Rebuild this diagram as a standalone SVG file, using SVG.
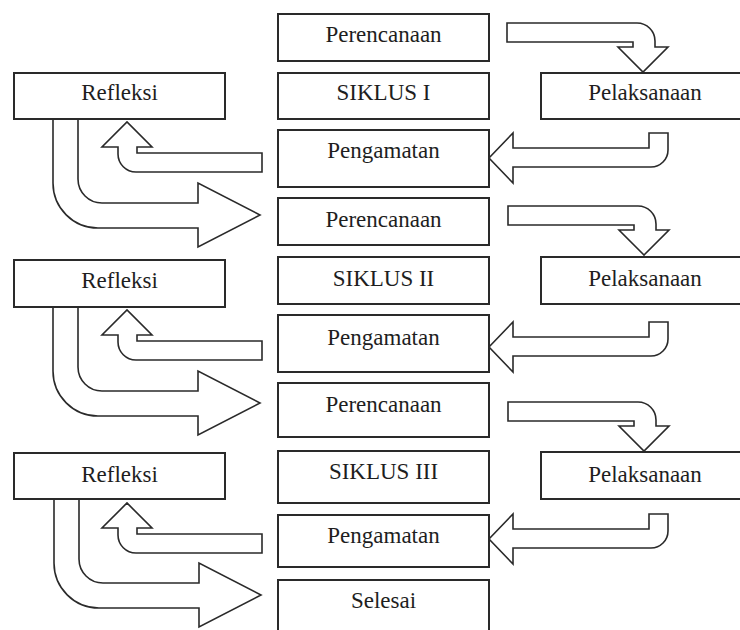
<svg xmlns="http://www.w3.org/2000/svg" width="740" height="630" viewBox="0 0 740 630">
<style>
.box{fill:#fff;stroke:#2a2a2a;stroke-width:2}
.arr{fill:#fff;stroke:#2a2a2a;stroke-width:1.6;stroke-linejoin:miter}
text{font-family:"Liberation Serif","Times New Roman",serif;font-size:23px;fill:#1e1e1e;text-anchor:middle}
</style>
<rect width="740" height="630" fill="#fff"/>
<g id="connectors">
<path class="arr" d="M507,23 H637 A18,18 0 0 1 655,41 V47 H668 L643,72 L618,47 H633 V42 H507 Z"/>
<path class="arr" transform="translate(1,183)" d="M507,23 H637 A18,18 0 0 1 655,41 V47 H668 L643,72 L618,47 H633 V42 H507 Z"/>
<path class="arr" transform="translate(1,379)" d="M507,23 H637 A18,18 0 0 1 655,41 V47 H668 L643,72 L618,47 H633 V42 H507 Z"/>
<path class="arr" d="M649,133 H668 V150 A17,17 0 0 1 651,167 H513 V183 L489,158 L513,133 V148 H649 Z"/>
<path class="arr" transform="translate(0,189)" d="M649,133 H668 V150 A17,17 0 0 1 651,167 H513 V183 L489,158 L513,133 V148 H649 Z"/>
<path class="arr" transform="translate(0,381)" d="M649,133 H668 V150 A17,17 0 0 1 651,167 H513 V183 L489,158 L513,133 V148 H649 Z"/>
<path class="arr" d="M262,153 V172 H136 A18,18 0 0 1 118,154 V147 H102 L127,122 L152,147 H137 V153 Z"/>
<path class="arr" transform="translate(0,188)" d="M262,153 V172 H136 A18,18 0 0 1 118,154 V147 H102 L127,122 L152,147 H137 V153 Z"/>
<path class="arr" transform="translate(0,381)" d="M262,153 V172 H136 A18,18 0 0 1 118,154 V147 H102 L127,122 L152,147 H137 V153 Z"/>
<path class="arr" d="M53,119 H78 V179 A24,24 0 0 0 102,203 H198 V183 L260,215 L198,247 V228 H98 A45,45 0 0 1 53,183 Z"/>
<path class="arr" transform="translate(0,188)" d="M53,119 H78 V179 A24,24 0 0 0 102,203 H198 V183 L260,215 L198,247 V228 H98 A45,45 0 0 1 53,183 Z"/>
<path class="arr" transform="translate(1,380)" d="M53,119 H78 V179 A24,24 0 0 0 102,203 H198 V183 L260,215 L198,247 V228 H98 A45,45 0 0 1 53,183 Z"/>
</g>
<g id="perencanaan1"><rect class="box" x="278" y="14" width="211" height="47"/><text x="383.5" y="42">Perencanaan</text></g>
<g id="siklus1"><rect class="box" x="278" y="73" width="211" height="46"/><text x="383.5" y="100">SIKLUS I</text></g>
<g id="pengamatan1"><rect class="box" x="278" y="130" width="211" height="57"/><text x="383.5" y="158">Pengamatan</text></g>
<g id="refleksi1"><rect class="box" x="14" y="73" width="211" height="46"/><text x="119.5" y="100">Refleksi</text></g>
<g id="pelaksanaan1"><rect class="box" x="541" y="73" width="210" height="46"/><text x="645" y="100">Pelaksanaan</text></g>
<g id="perencanaan2"><rect class="box" x="278" y="198" width="211" height="47"/><text x="383.5" y="227">Perencanaan</text></g>
<g id="siklus2"><rect class="box" x="278" y="257" width="211" height="47"/><text x="383.5" y="286">SIKLUS II</text></g>
<g id="pengamatan2"><rect class="box" x="278" y="315" width="211" height="57"/><text x="383.5" y="345">Pengamatan</text></g>
<g id="refleksi2"><rect class="box" x="14" y="260" width="211" height="47"/><text x="119.5" y="288">Refleksi</text></g>
<g id="pelaksanaan2"><rect class="box" x="541" y="257" width="210" height="47"/><text x="645" y="286">Pelaksanaan</text></g>
<g id="perencanaan3"><rect class="box" x="278" y="383" width="211" height="54"/><text x="383.5" y="412">Perencanaan</text></g>
<g id="siklus3"><rect class="box" x="278" y="451" width="211" height="52"/><text x="383.5" y="479">SIKLUS III</text></g>
<g id="pengamatan3"><rect class="box" x="278" y="515" width="211" height="52"/><text x="383.5" y="543">Pengamatan</text></g>
<g id="refleksi3"><rect class="box" x="14" y="453" width="211" height="46"/><text x="119.5" y="482">Refleksi</text></g>
<g id="pelaksanaan3"><rect class="box" x="541" y="452" width="210" height="47"/><text x="645" y="482">Pelaksanaan</text></g>
<g id="selesai"><rect class="box" x="278" y="580" width="211" height="70"/><text x="383.5" y="608">Selesai</text></g>
</svg>
